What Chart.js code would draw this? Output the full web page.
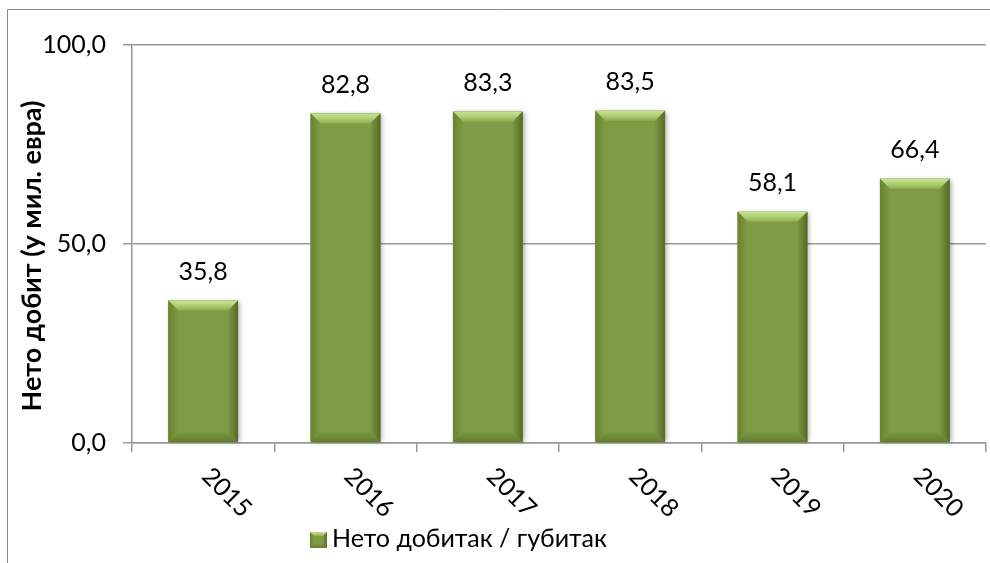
<!DOCTYPE html>
<html>
<head>
<meta charset="utf-8">
<script src="https://cdn.jsdelivr.net/npm/chart.js@4.4.1/dist/chart.umd.min.js"></script>
<style>
  html, body { margin: 0; padding: 0; background: #fff; }
  #wrap { position: relative; width: 990px; height: 563px; }
</style>
</head>
<body>
<div id="wrap"><canvas id="profitChart" width="990" height="563"></canvas></div>
<script>
const years = ['2015', '2016', '2017', '2018', '2019', '2020'];
const netProfit = [35.8, 82.8, 83.3, 83.5, 58.1, 66.4];
const yTicks = [0, 50, 100];
const seriesLabel = 'Нето добитак / губитак';
const yTitle = 'Нето добит (у мил. евра)';

const FONT = 'Lato, "Noto Sans", sans-serif';
const GRID = '#989898';
const BAR = '#7f9b45';
const fmt = v => v.toFixed(1).replace('.', ',');

// bevelled bar face, roughly like the office "soft edge" look
function drawBevel(ctx, l, t, r, b, d) {
    ctx.save();
    let g = ctx.createLinearGradient(0, t, 0, t + d);
    g.addColorStop(0, '#c8e394');
    g.addColorStop(0.5, '#b0cf74');
    g.addColorStop(1, '#8eac50');
    ctx.fillStyle = g;
    ctx.beginPath();
    ctx.moveTo(l, t); ctx.lineTo(r, t); ctx.lineTo(r - d, t + d); ctx.lineTo(l + d, t + d);
    ctx.closePath(); ctx.fill();

    g = ctx.createLinearGradient(r - d, 0, r, 0);
    g.addColorStop(0, '#7d9943');
    g.addColorStop(1, '#556a26');
    ctx.fillStyle = g;
    ctx.beginPath();
    ctx.moveTo(r, t); ctx.lineTo(r, b); ctx.lineTo(r - d, b - d); ctx.lineTo(r - d, t + d);
    ctx.closePath(); ctx.fill();

    g = ctx.createLinearGradient(l, 0, l + d, 0);
    g.addColorStop(0, '#68822f');
    g.addColorStop(1, '#7f9b45');
    ctx.fillStyle = g;
    ctx.beginPath();
    ctx.moveTo(l, t); ctx.lineTo(l + d, t + d); ctx.lineTo(l + d, b - d); ctx.lineTo(l, b);
    ctx.closePath(); ctx.fill();

    g = ctx.createLinearGradient(0, b - d, 0, b);
    g.addColorStop(0, '#7b9742');
    g.addColorStop(1, '#627a2f');
    ctx.fillStyle = g;
    ctx.beginPath();
    ctx.moveTo(l, b); ctx.lineTo(r, b); ctx.lineTo(r - d, b - d); ctx.lineTo(l + d, b - d);
    ctx.closePath(); ctx.fill();
    ctx.restore();
}

function barRect(bar) {
    const p = bar.getProps(['x', 'y', 'base', 'width'], true);
    return { x: p.x, l: p.x - p.width / 2, r: p.x + p.width / 2, t: p.y, b: p.base };
}

const decorPlugin = {
    id: 'decor',
    beforeDraw(chart) {
        const ctx = chart.ctx;
        ctx.save();
        ctx.strokeStyle = '#8a8a8a';
        ctx.lineWidth = 1;
        ctx.beginPath();
        ctx.moveTo(7.5, 563); ctx.lineTo(7.5, 9.5); ctx.lineTo(990, 9.5);
        ctx.stroke();
        ctx.restore();
    },
    beforeDatasetsDraw(chart) {
        // soft shadow behind the bars
        const ctx = chart.ctx;
        ctx.save();
        ctx.shadowColor = 'rgba(0,0,0,0.35)';
        ctx.shadowBlur = 5;
        ctx.shadowOffsetX = 2;
        ctx.shadowOffsetY = 1;
        ctx.fillStyle = BAR;
        chart.getDatasetMeta(0).data.forEach(bar => {
            const q = barRect(bar);
            ctx.fillRect(q.l, q.t, q.r - q.l, q.b - q.t - 1);
        });
        ctx.restore();
    },
    afterDatasetsDraw(chart) {
        const ctx = chart.ctx;
        chart.getDatasetMeta(0).data.forEach((bar, i) => {
            const q = barRect(bar);
            drawBevel(ctx, q.l, q.t, q.r, q.b, 10);
            ctx.save();
            ctx.fillStyle = '#000';
            ctx.font = '25px ' + FONT;
            ctx.textAlign = 'center';
            ctx.textBaseline = 'middle';
            ctx.fillText(fmt(netProfit[i]), q.x, q.t - 29);
            ctx.restore();
        });
    },
    afterDraw(chart) {
        const ctx = chart.ctx;
        const xs = chart.scales.x;
        ctx.save();
        ctx.fillStyle = '#000';
        ctx.font = '25px ' + FONT;
        ctx.textAlign = 'left';
        ctx.textBaseline = 'middle';
        years.forEach((yr, i) => {
            const x = xs.getPixelForValue(i);
            ctx.save();
            ctx.translate(x + 3, xs.top + 29);
            ctx.rotate(Math.PI / 4);
            ctx.fillText(yr, 0, 0);
            ctx.restore();
        });

        // y axis title
        ctx.save();
        ctx.font = 'bold 27px ' + FONT;
        ctx.textAlign = 'center';
        ctx.translate(32, 256);
        ctx.rotate(-Math.PI / 2);
        ctx.fillText(yTitle, 0, 0);
        ctx.restore();

        // legend
        ctx.fillStyle = BAR;
        ctx.fillRect(310, 532, 17, 16);
        drawBevel(ctx, 310, 532, 327, 548, 4);
        ctx.fillStyle = '#000';
        ctx.font = '25px ' + FONT;
        ctx.textBaseline = 'alphabetic';
        ctx.fillText(seriesLabel, 332, 547);
        ctx.restore();
    }
};

new Chart(document.getElementById('profitChart'), {
    type: 'bar',
    data: {
        labels: years,
        datasets: [{
            label: seriesLabel,
            data: netProfit,
            backgroundColor: BAR,
            borderWidth: 0,
            barPercentage: 0.49,
            categoryPercentage: 1
        }]
    },
    options: {
        responsive: false,
        animation: false,
        layout: { padding: { top: 45, right: 4, left: 0, bottom: 0 } },
        plugins: {
            legend: { display: false },
            tooltip: { enabled: false }
        },
        scales: {
            x: {
                ticks: { display: false },
                grid: { drawOnChartArea: false, drawTicks: true, tickLength: 9, color: GRID, lineWidth: 1.5 },
                border: { color: GRID, width: 1.5 },
                afterFit: s => { s.height = 120; }
            },
            y: {
                min: yTicks[0],
                max: yTicks[yTicks.length - 1],
                ticks: {
                    stepSize: yTicks[1] - yTicks[0],
                    callback: v => fmt(v),
                    color: '#000',
                    font: { family: FONT, size: 25 },
                    padding: 17
                },
                grid: { color: GRID, lineWidth: 1.5, tickLength: 9 },
                border: { color: GRID, width: 1.5 },
                afterFit: s => { s.width = 132; }
            }
        }
    },
    plugins: [decorPlugin]
});
</script>
</body>
</html>
